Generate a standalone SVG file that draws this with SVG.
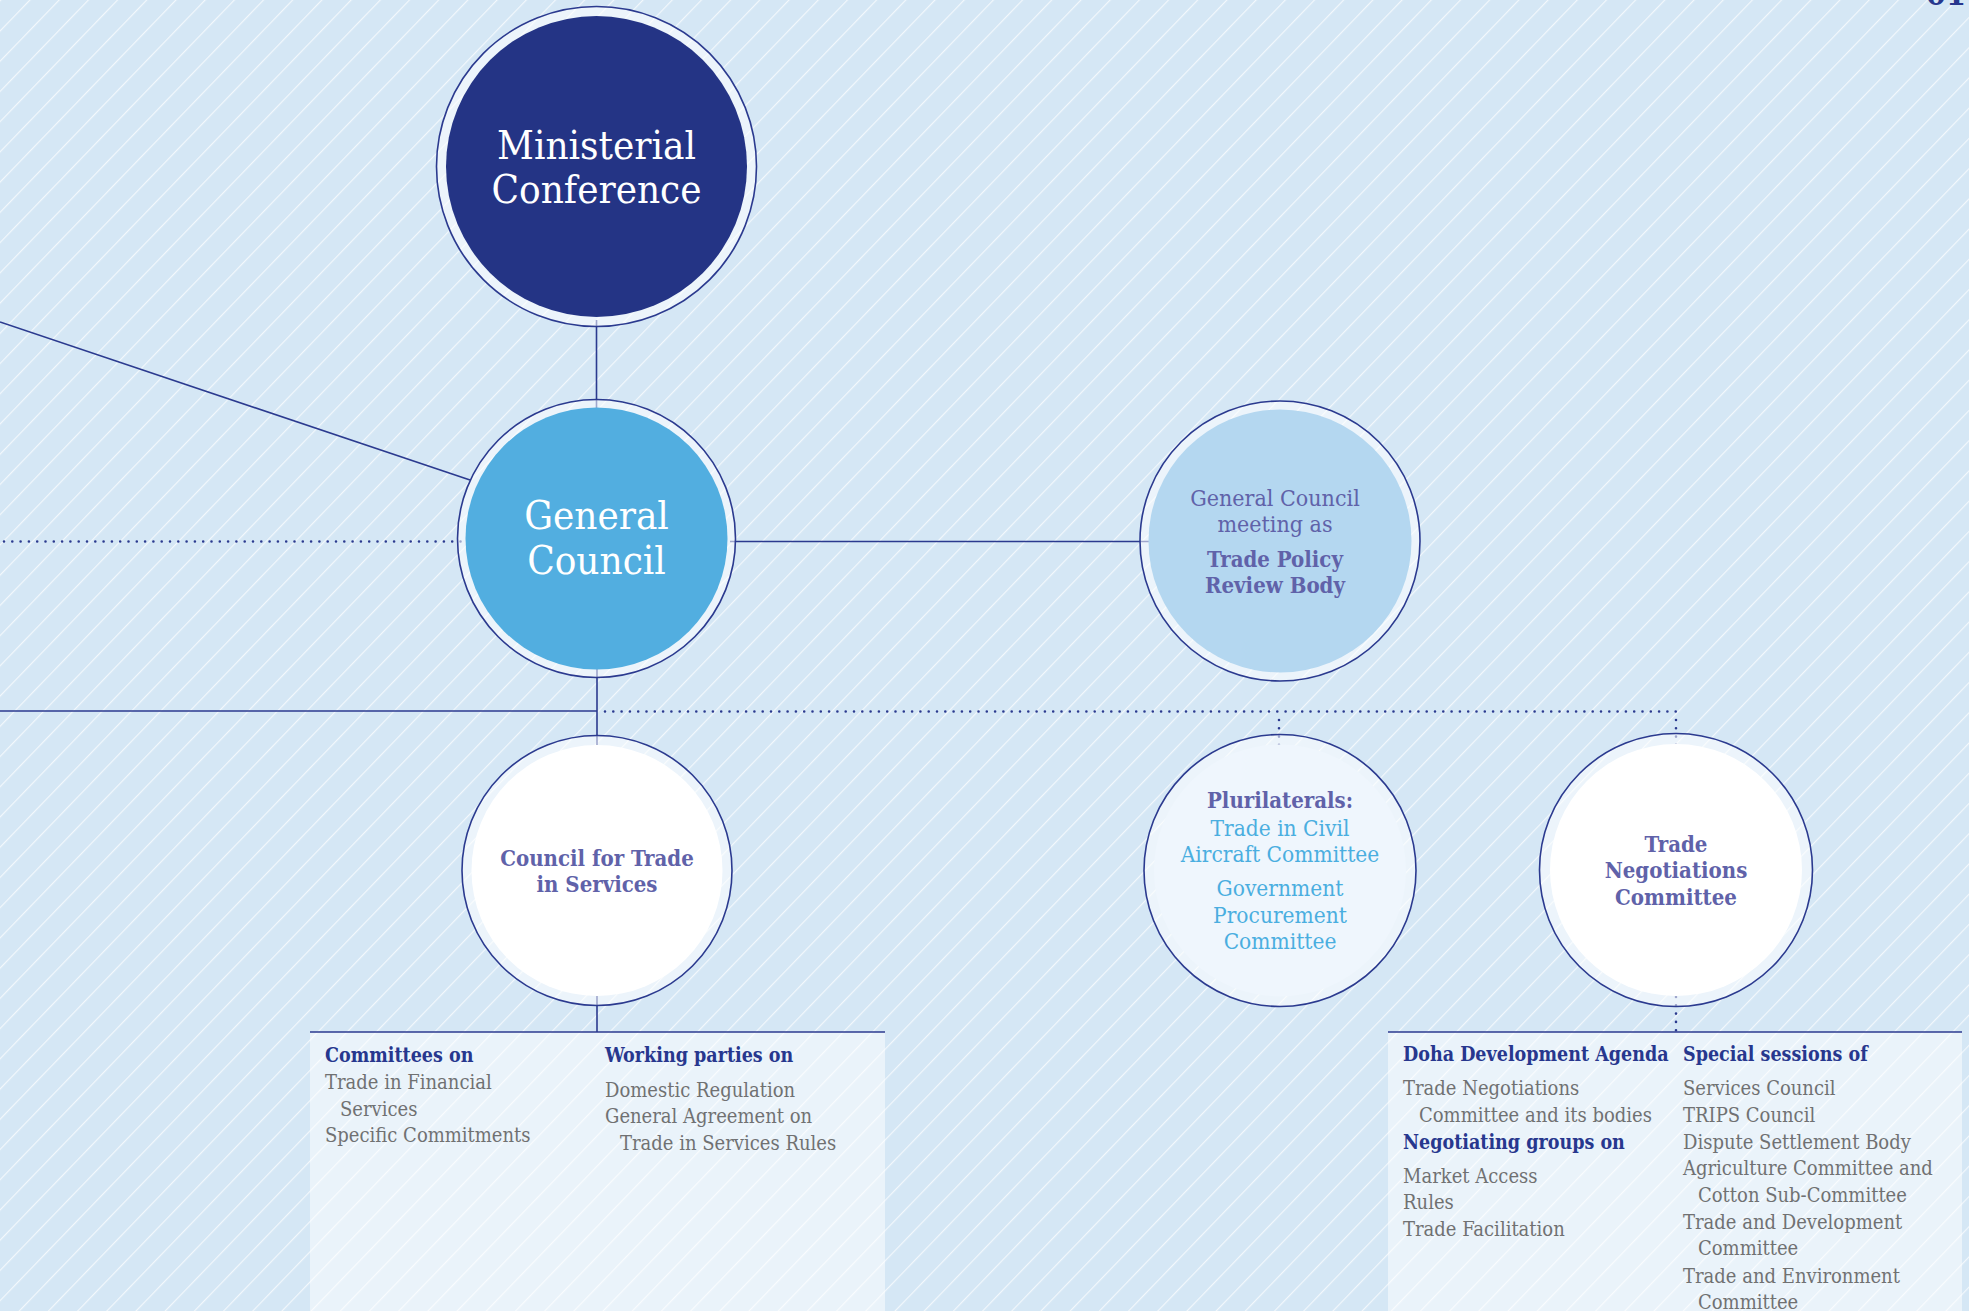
<svg xmlns="http://www.w3.org/2000/svg" width="1969" height="1311" viewBox="0 0 1969 1311">
<defs>
<pattern id="hatch" patternUnits="userSpaceOnUse" width="21" height="21" patternTransform="rotate(44)">
<line x1="0.6" y1="0" x2="0.6" y2="21" stroke="#ffffff" stroke-opacity="0.75" stroke-width="1.1"/>
</pattern>
<style>
.bg{fill:#d5e7f5}
.ring{fill:#ffffff;fill-opacity:0.55;stroke:#2b3a8f;stroke-width:1.6}
.ln{stroke:#2b3a8f;stroke-width:1.6;fill:none}
.dot{stroke:#2b3a8f;stroke-width:2.6;stroke-linecap:round;stroke-dasharray:0 8.3;fill:none}
.box{fill:#ffffff;fill-opacity:0.5}
.big{font-family:"DejaVu Serif Condensed","DejaVu Serif",serif;font-stretch:condensed;font-size:40px;fill:#ffffff;text-anchor:middle}
.nb{font-family:"DejaVu Serif Condensed","DejaVu Serif",serif;font-stretch:condensed;font-size:22px;font-weight:bold;fill:#6062a9;text-anchor:middle}
.nr{font-family:"DejaVu Serif Condensed","DejaVu Serif",serif;font-stretch:condensed;font-size:23px;fill:#6062a9;text-anchor:middle}
.pl{font-family:"DejaVu Serif Condensed","DejaVu Serif",serif;font-stretch:condensed;font-size:22.5px;fill:#4aaee0;text-anchor:middle}
.hd{font-family:"DejaVu Serif Condensed","DejaVu Serif",serif;font-stretch:condensed;font-size:19.5px;font-weight:bold;fill:#27378e}
.tx{font-family:"DejaVu Serif Condensed","DejaVu Serif",serif;font-stretch:condensed;font-size:20px;fill:#707172}
</style>
</defs>
<rect class="bg" x="0" y="0" width="1969" height="1311"/>
<rect x="0" y="0" width="1969" height="1311" fill="url(#hatch)"/>
<text x="1966" y="5" font-family="DejaVu Serif Condensed, DejaVu Serif, serif" font-size="32" font-weight="bold" fill="#27378e" text-anchor="end">01</text>

<g id="boxes">
<rect class="box" x="310" y="1032" width="575" height="290"/>
<line class="ln" x1="310" y1="1032" x2="885" y2="1032"/>
<rect class="box" x="1388" y="1032" width="574" height="290"/>
<line class="ln" x1="1388" y1="1032" x2="1962" y2="1032"/>
</g>

<g id="connectors">
<line class="ln" x1="0" y1="322" x2="470" y2="480"/>
<line class="dot" x1="4" y1="541.5" x2="462" y2="541.5"/>
<line class="ln" x1="596.5" y1="320" x2="596.5" y2="410"/>
<line class="ln" x1="730" y1="541.5" x2="1150" y2="541.5"/>
<line class="ln" x1="597" y1="668" x2="597" y2="746"/>
<line class="ln" x1="0" y1="711" x2="597" y2="711"/>
<line class="dot" x1="605" y1="711.5" x2="1676" y2="711.5"/>
<line class="dot" x1="1279" y1="720" x2="1279" y2="745"/>
<line class="dot" x1="1676" y1="720" x2="1676" y2="745"/>
<line class="ln" x1="597" y1="994" x2="597" y2="1032"/>
<line class="dot" x1="1676" y1="997" x2="1676" y2="1031"/>
</g>

<g id="ministerial-conference">
<circle class="ring" cx="596.5" cy="166.5" r="160"/>
<circle cx="596.5" cy="166.5" r="150.5" fill="#243485"/>
<text class="big" x="596.5" y="159">Ministerial</text>
<text class="big" x="596.5" y="203">Conference</text>
</g>

<g id="general-council">
<circle class="ring" cx="596.5" cy="538.5" r="139"/>
<circle cx="596.5" cy="538.5" r="131" fill="#52aee0"/>
<text class="big" x="596.5" y="529">General</text>
<text class="big" x="596.5" y="574">Council</text>
</g>

<g id="trade-policy-review-body">
<circle class="ring" cx="1280" cy="541" r="140"/>
<circle cx="1280" cy="541" r="131.5" fill="#b4d7f0"/>
<text class="nr" x="1275" y="506">General Council</text>
<text class="nr" x="1275" y="532">meeting as</text>
<text class="nb" x="1275" y="567">Trade Policy</text>
<text class="nb" x="1275" y="593">Review Body</text>
</g>

<g id="council-trade-services">
<circle class="ring" cx="597" cy="870.5" r="135"/>
<circle cx="597" cy="870.5" r="125.5" fill="#ffffff"/>
<text class="nb" x="597" y="866">Council for Trade</text>
<text class="nb" x="597" y="892">in Services</text>
</g>

<g id="plurilaterals">
<circle class="ring" cx="1280" cy="870.5" r="136"/>
<circle cx="1280" cy="870.5" r="126" fill="#eff6fd"/>
<text class="nb" x="1280" y="808">Plurilaterals:</text>
<text class="pl" x="1280" y="836">Trade in Civil</text>
<text class="pl" x="1280" y="862">Aircraft Committee</text>
<text class="pl" x="1280" y="896">Government</text>
<text class="pl" x="1280" y="923">Procurement</text>
<text class="pl" x="1280" y="949">Committee</text>
</g>

<g id="trade-negotiations-committee">
<circle class="ring" cx="1676" cy="870" r="136.5"/>
<circle cx="1676" cy="870" r="126" fill="#ffffff"/>
<text class="nb" x="1676" y="852">Trade</text>
<text class="nb" x="1676" y="878">Negotiations</text>
<text class="nb" x="1676" y="905">Committee</text>
</g>

<g id="services-box-text">
<text class="hd" x="325" y="1062">Committees on</text>
<text class="tx" x="325" y="1089">Trade in Financial</text>
<text class="tx" x="340" y="1116">Services</text>
<text class="tx" x="325" y="1142">Specific Commitments</text>
<text class="hd" x="605" y="1062">Working parties on</text>
<text class="tx" x="605" y="1097">Domestic Regulation</text>
<text class="tx" x="605" y="1123">General Agreement on</text>
<text class="tx" x="620" y="1150">Trade in Services Rules</text>
</g>

<g id="tnc-box-text">
<text class="hd" x="1403" y="1061">Doha Development Agenda</text>
<text class="tx" x="1403" y="1095">Trade Negotiations</text>
<text class="tx" x="1419" y="1122">Committee and its bodies</text>
<text class="hd" x="1403" y="1149">Negotiating groups on</text>
<text class="tx" x="1403" y="1183">Market Access</text>
<text class="tx" x="1403" y="1209">Rules</text>
<text class="tx" x="1403" y="1236">Trade Facilitation</text>
<text class="hd" x="1683" y="1061">Special sessions of</text>
<text class="tx" x="1683" y="1095">Services Council</text>
<text class="tx" x="1683" y="1122">TRIPS Council</text>
<text class="tx" x="1683" y="1149">Dispute Settlement Body</text>
<text class="tx" x="1683" y="1175">Agriculture Committee and</text>
<text class="tx" x="1698" y="1202">Cotton Sub-Committee</text>
<text class="tx" x="1683" y="1229">Trade and Development</text>
<text class="tx" x="1698" y="1255">Committee</text>
<text class="tx" x="1683" y="1283">Trade and Environment</text>
<text class="tx" x="1698" y="1309">Committee</text>
</g>
</svg>
